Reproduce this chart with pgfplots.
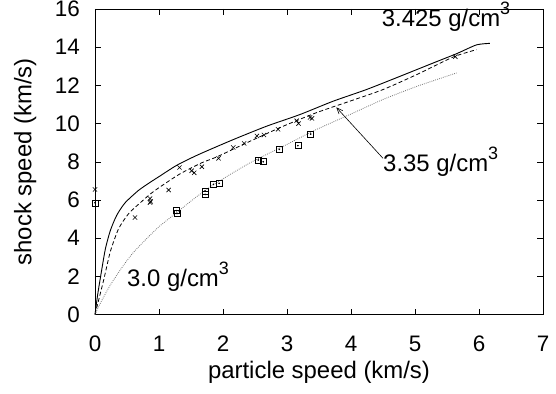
\documentclass[border=0pt]{standalone}
\usepackage{fontspec}
\setmainfont{Liberation Sans}
\usepackage{pgfplots}
\pgfplotsset{compat=1.18}
\usetikzlibrary{arrows.meta}
\newcommand{\cubed}{\raisebox{0.5em}{\fontsize{18}{18}\selectfont 3}}
\begin{document}
\fontsize{24}{28}\selectfont
\begin{tikzpicture}[x=1bp,y=1bp]
\path[use as bounding box] (-95,-78.5) rectangle (461,314.5);
\begin{axis}[
 at={(0,0)}, anchor=south west,
 scale only axis, width=448bp, height=305.5bp,
 xmin=0, xmax=7, ymin=0, ymax=16,
 xtick={0,1,...,7}, ytick={0,2,...,16},
 tick align=inside, major tick length=6bp,
 tick style={black, line width=0.5bp},
 axis line style={line width=0.6bp},
 /pgf/number format/assume math mode=true,
 tick label style={font=\fontsize{22.5}{22.5}\selectfont},
 xticklabel shift={13bp}, yticklabel shift={7bp},
 xlabel={particle speed (km/s)}, ylabel={shock speed (km/s)},
 label style={font=\fontsize{24}{24}\selectfont},
 xlabel style={at={(axis description cs:0.5,-0.188)}, anchor=center},
 ylabel style={at={(axis description cs:-0.156,0.5)}, anchor=center},
 clip=false,
]
% 3.425 g/cm3 (solid)
\addplot[black, line width=0.9bp, smooth, tension=0.4] coordinates {
(0,0) (0.04,1.0) (0.083,1.9) (0.16,3.4) (0.24,4.4) (0.34,5.2) (0.47,5.85) (0.68,6.5) (0.86,6.92) (0.99,7.2) (1.28,7.82) (1.62,8.38) (2.16,9.16) (2.68,9.86) (3.2,10.47) (3.72,11.17) (4.24,11.78) (4.77,12.48) (5.29,13.18) (5.65,13.66) (5.96,14.12) (6.17,14.2)
};
% 3.35 g/cm3 (dashed)
\addplot[black, line width=0.8bp, dash pattern=on 4bp off 2.5bp, smooth, tension=0.4] coordinates {
(0,0) (0.135,1.8) (0.24,3.3) (0.37,4.5) (0.53,5.3) (0.73,5.92) (0.86,6.3) (0.99,6.62) (1.32,7.35) (1.67,7.95) (1.9,8.25) (2.42,9.07) (2.94,9.86) (3.46,10.57) (3.98,11.17) (4.5,11.78) (5.03,12.57) (5.6,13.49) (5.96,13.87)
};
% 3.0 g/cm3 (dotted)
\addplot[black!55, line width=0.8bp, dash pattern=on 0.8bp off 1.2bp, smooth, tension=0.4] coordinates {
(0,0) (0.1,0.7) (0.25,1.6) (0.45,2.6) (0.6,3.25) (0.8,3.95) (1.0,4.6) (1.28,5.35) (1.6,6.2) (1.9,6.9) (2.42,7.94) (2.94,8.81) (3.46,9.69) (3.98,10.47) (4.5,11.26) (5.03,11.95) (5.65,12.65)
};
% crosses
\addplot[only marks, mark=x, mark size=3bp, mark options={black, line width=0.6bp}] coordinates {
(0,6.55) (0.625,5.08) (0.86,6.07) (0.87,5.92) (0.86,5.86) (1.15,6.52) (1.32,7.7) (1.51,7.53) (1.55,7.42) (1.67,7.74) (1.93,8.18) (2.16,8.75) (2.33,8.96) (2.53,9.35) (2.64,9.4) (2.86,9.7) (3.15,10.15) (3.18,10.0) (3.36,10.32) (3.39,10.27) (5.63,13.5)
};
% squares
\addplot[only marks, mark=square, mark size=3bp, mark options={black, line width=0.6bp}] coordinates {
(0,5.85) (1.27,5.44) (1.28,5.29) (1.72,6.47) (1.72,6.29) (1.85,6.82) (1.94,6.87) (2.55,8.09) (2.63,8.0) (2.88,8.65) (3.17,8.84) (3.37,9.45)
};
\addplot[only marks, mark=*, mark size=0.6bp, mark options={black}] coordinates {
(0,5.85) (1.27,5.44) (1.28,5.29) (1.72,6.47) (1.72,6.29) (1.85,6.82) (1.94,6.87) (2.55,8.09) (2.63,8.0) (2.88,8.65) (3.17,8.84) (3.37,9.45)
};
\node[anchor=base west, inner sep=0pt, font=\fontsize{24}{24}\selectfont] at (axis cs:4.48,15.07) {3.425 g/cm\cubed};
\node[anchor=base west, inner sep=0pt, font=\fontsize{24}{24}\selectfont] at (axis cs:4.5,7.48) {3.35 g/cm\cubed};
\node[anchor=base west, inner sep=0pt, font=\fontsize{24}{24}\selectfont] at (axis cs:0.5,1.46) {3.0 g/cm\cubed};
\draw[-{Straight Barb[length=6bp, width=5bp]}, line width=0.6bp] (axis cs:4.5,8.18) -- (axis cs:3.77,10.85);
\end{axis}
\end{tikzpicture}
\end{document}
